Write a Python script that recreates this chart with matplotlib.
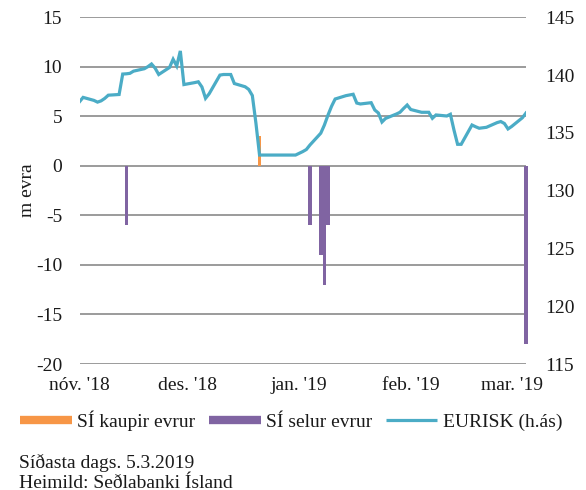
import matplotlib
matplotlib.use("Agg")
import matplotlib.pyplot as plt
from matplotlib.lines import Line2D
import pandas as pd

# ---------------- data ----------------
eurisk_dates = [
    "2018-11-01", "2018-11-02", "2018-11-05", "2018-11-06", "2018-11-07", "2018-11-08",
    "2018-11-09", "2018-11-12", "2018-11-13", "2018-11-14", "2018-11-15", "2018-11-16",
    "2018-11-19", "2018-11-20", "2018-11-21", "2018-11-22", "2018-11-23", "2018-11-26",
    "2018-11-27", "2018-11-28", "2018-11-29", "2018-11-30", "2018-12-03", "2018-12-04",
    "2018-12-05", "2018-12-06", "2018-12-07", "2018-12-10", "2018-12-11", "2018-12-12",
    "2018-12-13", "2018-12-14", "2018-12-17", "2018-12-18", "2018-12-19", "2018-12-20",
    "2018-12-21", "2018-12-27", "2018-12-28", "2018-12-31", "2019-01-02", "2019-01-03",
    "2019-01-04", "2019-01-07", "2019-01-08", "2019-01-09", "2019-01-10", "2019-01-11",
    "2019-01-14", "2019-01-15", "2019-01-16", "2019-01-17", "2019-01-18", "2019-01-21",
    "2019-01-22", "2019-01-23", "2019-01-24", "2019-01-25", "2019-01-28", "2019-01-29",
    "2019-01-30", "2019-01-31", "2019-02-01", "2019-02-04", "2019-02-05", "2019-02-06",
    "2019-02-07", "2019-02-08", "2019-02-11", "2019-02-12", "2019-02-13", "2019-02-14",
    "2019-02-15", "2019-02-18", "2019-02-19", "2019-02-20", "2019-02-21", "2019-02-22",
    "2019-02-25", "2019-02-26", "2019-02-27", "2019-02-28", "2019-03-01", "2019-03-04",
    "2019-03-05",
]
eurisk_values = [
    137.69, 138.07, 137.81, 137.66, 137.77, 137.98,
    138.26, 138.32, 140.09, 140.11, 140.15, 140.34,
    140.55, 140.73, 140.96, 140.60, 140.05, 140.66,
    141.37, 140.79, 142.09, 139.18, 139.35, 139.42,
    138.97, 137.99, 138.38, 140.00, 140.05, 140.05,
    140.05, 139.27, 138.99, 138.76, 138.23, 135.83,
    133.08, 133.08, 133.08, 133.08, 133.38, 133.56,
    133.95, 134.97, 135.67, 136.53, 137.30, 137.93,
    138.22, 138.28, 138.34, 137.58, 137.50, 137.61,
    136.98, 136.72, 135.94, 136.25, 136.63, 136.78,
    137.11, 137.41, 137.02, 136.78, 136.78, 136.78,
    136.26, 136.55, 136.46, 136.61, 135.24, 134.01,
    134.01, 135.68, 135.53, 135.40, 135.44, 135.48,
    135.89, 135.98, 135.81, 135.34, 135.55, 136.31,
    136.72,
]

buy_dates = ["2018-12-21"]
buy_values = [3]

sell_dates = ["2018-11-14", "2019-01-04", "2019-01-07", "2019-01-08", "2019-01-09", "2019-03-05"]
sell_values = [-6, -6, -9, -12, -6, -18]

month_ticks = ["2018-11-01", "2018-12-01", "2019-01-01", "2019-02-01", "2019-03-01"]
month_labels = ["nóv. '18", "des. '18", "jan. '19", "feb. '19", "mar. '19"]

left_ticks = [15, 10, 5, 0, -5, -10, -15, -20]
right_ticks = [145, 140, 135, 130, 125, 120, 115]

x_start, x_end = "2018-11-01", "2019-03-05"

# ---------------- style ----------------
plt.rcParams["font.family"] = ["Liberation Serif", "DejaVu Serif"]
plt.rcParams["font.size"] = 14

C_LINE = "#4BACC6"
C_BUY = "#F79646"
C_SELL = "#8064A2"
C_GRID = "#8A8A8A"
C_TEXT = "#1a1a1a"

fig = plt.figure(figsize=(5.86, 4.90), dpi=100)
ax = fig.add_axes([79.5 / 586, 1 - 364 / 490, (526 - 79.5) / 586, (364 - 17.3) / 490])

bd = pd.to_datetime(buy_dates)
sd = pd.to_datetime(sell_dates)
ed = pd.to_datetime(eurisk_dates)

ax.bar(bd, buy_values, width=1.0, color=C_BUY, zorder=3, clip_on=False)
ax.bar(sd, sell_values, width=1.0, color=C_SELL, zorder=3, clip_on=False)

ax.set_ylim(-20, 15)
ax.set_yticks(left_ticks)
ax.set_yticklabels([str(t) for t in left_ticks])
ax.yaxis.grid(True, color=C_GRID, linewidth=1.2, zorder=0)
ax.set_axisbelow(True)
ax.set_xlim(pd.Timestamp(x_start), pd.Timestamp(x_end))
ax.set_xticks(pd.to_datetime(month_ticks))
ax.set_xticklabels(month_labels)
ax.tick_params(axis="both", length=0, colors=C_TEXT, labelsize=14)
ax.tick_params(axis="y", pad=12.5)
ax.tick_params(axis="x", pad=9)
for s in ax.spines.values():
    s.set_visible(False)
ax.patch.set_visible(False)

ax2 = ax.twinx()
ax2.plot(ed, eurisk_values, color=C_LINE, linewidth=2.3, zorder=4,
         solid_joinstyle="miter")
ax2.set_ylim(115, 145)
ax2.set_yticks(right_ticks)
ax2.set_yticklabels([str(t) for t in right_ticks])
ax2.tick_params(axis="y", length=0, pad=13.5, colors=C_TEXT, labelsize=14)
for s in ax2.spines.values():
    s.set_visible(False)
ax2.set_xlim(pd.Timestamp(x_start), pd.Timestamp(x_end))

fig.text(27 / 586, 1 - 190.5 / 490, "m evra", rotation=90, ha="center", va="center",
         color=C_TEXT, fontsize=14)

handles = [
    Line2D([0], [0], color=C_BUY, linewidth=6, solid_capstyle="butt"),
    Line2D([0], [0], color=C_SELL, linewidth=6, solid_capstyle="butt"),
    Line2D([0], [0], color=C_LINE, linewidth=2.3, solid_capstyle="butt"),
]
labels = ["SÍ kaupir evrur", "SÍ selur evrur", "EURISK (h.ás)"]
fig.legend(handles, labels, loc="center left", bbox_to_anchor=(20 / 586, 1 - 421 / 490),
           ncol=3, frameon=False, handlelength=2.67, handletextpad=0.26,
           columnspacing=0.7, borderpad=0, borderaxespad=0, fontsize=14,
           labelcolor=C_TEXT)

fig.text(19 / 586, 1 - 468 / 490, "Síðasta dags. 5.3.2019", ha="left", va="baseline",
         color=C_TEXT, fontsize=14)
fig.text(19 / 586, 1 - 487.5 / 490, "Heimild: Seðlabanki Ísland", ha="left", va="baseline",
         color=C_TEXT, fontsize=14)

fig.savefig("out.png", dpi=100)
